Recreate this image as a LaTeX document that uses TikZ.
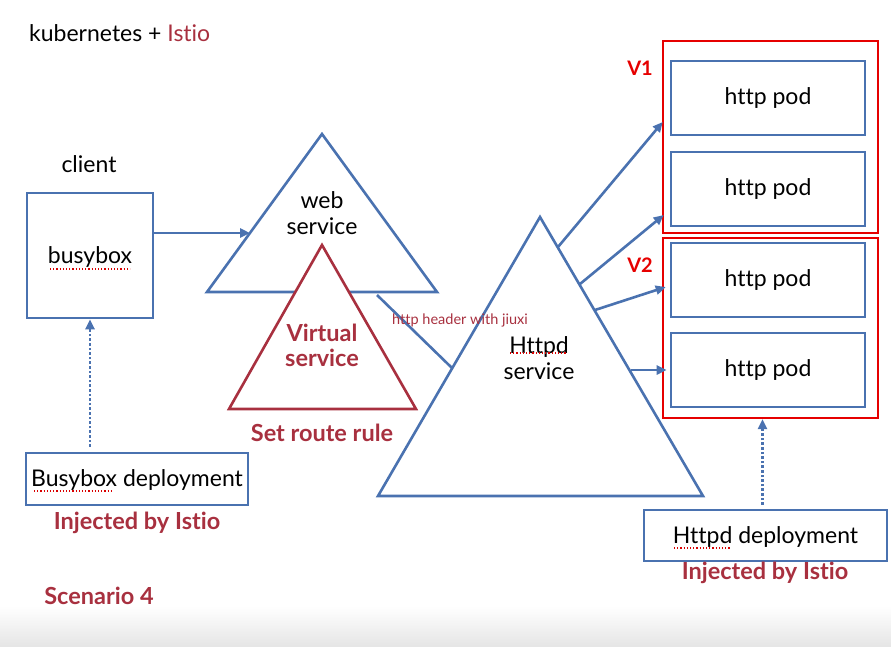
\documentclass[tikz,border=0pt]{standalone}
\usepackage{fontspec}
\setmainfont{Lato}[Ligatures={NoCommon,NoRare}]
\usetikzlibrary{arrows.meta}
\definecolor{kblue}{HTML}{4A72B0}
\definecolor{kred}{HTML}{A8303F}
\definecolor{vred}{HTML}{E60000}
\begin{document}
\begin{tikzpicture}[x=1pt,y=-1pt,
  box/.style={draw=kblue, line width=2.6pt, fill=white, inner sep=0pt},
  tri/.style={draw=kblue, line width=2.6pt, fill=white, line join=miter},
  vtri/.style={draw=kred, line width=2.6pt, fill=white},
  lbl/.style={font=\fontsize{23}{26}\selectfont, text=black, align=center, inner sep=0pt},
  redlbl/.style={font=\bfseries\fontsize{23.5}{25}\selectfont, text=kred, align=center, inner sep=0pt},
  vlbl/.style={font=\bfseries\fontsize{20}{22}\selectfont, text=vred, inner sep=0pt},
  conn/.style={draw=kblue, line width=2.6pt, -{Triangle[length=10pt,width=9pt]}},
  dotconn/.style={conn, dotted},
  grp/.style={draw=vred, line width=2.2pt, inner sep=0pt},
  squig/.style={draw=red!85!black, line width=1.2pt, dotted}]
\useasboundingbox (0,0) rectangle (891,646);
\shade[top color=white, bottom color=black!10] (0,606) rectangle (891,646);

% title
\node[lbl, anchor=west] (title) at (29,33) {kubernetes + {\color{kred}Istio}};

% client
\node[lbl] (clientlbl) at (89,164) {client};
\node[box, minimum width=126pt, minimum height=125pt] (busy) at (90,255.5) {};
\node[lbl] (busytxt) at (90,257) {busybox};

% web service triangle
\coordinate (wa) at (322,134);
\coordinate (wl) at (207,292);
\coordinate (wr) at (437,292);
\draw[tri] (wa) -- (wl) -- (wr) -- cycle;
\node[lbl] (web) at (322,213) {web\\service};
\coordinate (webin) at (250,233);
\draw[conn] (busy.east |- webin) -- (webin);

% virtual service triangle
\coordinate (va) at (322,245);
\coordinate (vl) at (229,409);
\coordinate (vr) at (416,409);
\draw[vtri] (va) -- (vl) -- (vr) -- cycle;
\node[redlbl] (virt) at (322,345) {Virtual\\service};
\node[redlbl] (route) at (322,433) {Set route rule};

% httpd service triangle
\coordinate (ha) at (540,217);
\coordinate (hl) at (378,496);
\coordinate (hr) at (703,496);
\draw[tri] (ha) -- (hl) -- (hr) -- cycle;
\node[lbl] (httpd) at (539,358) {Httpd\\service};

% web -> httpd
\coordinate (wout) at (377,295);
\coordinate (hin) at (452,368);
\draw[draw=kblue, line width=2.6pt] (wout) -- (hin);
\node[font=\fontsize{14.5}{16}\selectfont, text=kred, inner sep=0pt] (hdr) at (460,320) {http header with jiuxi};

% pods
\node[box, minimum width=194pt, minimum height=74pt] (pod1) at (768,98) {};
\node[box, minimum width=194pt, minimum height=74pt] (pod2) at (768,189) {};
\node[box, minimum width=194pt, minimum height=74pt] (pod3) at (768,280) {};
\node[box, minimum width=194pt, minimum height=74pt] (pod4) at (768,370) {};
\node[lbl] (p1t) at (pod1) {http pod};
\node[lbl] (p2t) at (pod2) {http pod};
\node[lbl] (p3t) at (pod3) {http pod};
\node[lbl] (p4t) at (pod4) {http pod};

% groups
\node[grp, minimum width=215pt, minimum height=192pt] (v1) at (770.5,137) {};
\node[grp, minimum width=215pt, minimum height=180pt] (v2) at (770.5,328) {};
\node[vlbl] (v1l) at (640,68) {V1};
\node[vlbl] (v2l) at (640,265) {V2};

% httpd -> pods
\coordinate (o1) at (558,247);
\coordinate (o2) at (580,284);
\coordinate (o3) at (595,310);
\coordinate (o4) at (631,370);
\draw[conn] (o1) -- ([xshift=-7pt,yshift=-24pt]pod1.west);
\draw[conn] (o2) -- ([xshift=-6pt,yshift=-26pt]pod2.west);
\draw[conn] (o3) -- ([xshift=-4pt,yshift=-7pt]pod3.west);
\draw[conn] (o4) -- ([xshift=-3pt]pod4.west);

% deployments
\node[box, minimum width=222pt, minimum height=52pt] (busyd) at (137,479) {};
\node[lbl] (busydt) at (137,480) {Busybox deployment};
\draw[dotconn] ([yshift=5pt]busyd.north -| busy.south) -- (busy.south);
\node[redlbl] (inj1) at (137,523) {Injected by Istio};

\node[box, minimum width=243pt, minimum height=51pt] (httpdd) at (765.5,535.5) {};
\node[lbl] (httpddt) at (765.5,537) {Httpd deployment};
\draw[dotconn] ([xshift=-3pt,yshift=4pt]httpdd.north) -- ([xshift=-3pt]httpdd.north |- v2.south);
\node[redlbl] (inj2) at (765,573) {Injected by Istio};

\node[redlbl] (scen) at (99,596) {Scenario 4};

% spell-check marks
\draw[squig] (50,269) -- (130,269);
\draw[squig] (34,491) -- (112,491);
\draw[squig] (510,353) -- (567,353);
\draw[squig] (674,548) -- (731,548);
\end{tikzpicture}
\end{document}
